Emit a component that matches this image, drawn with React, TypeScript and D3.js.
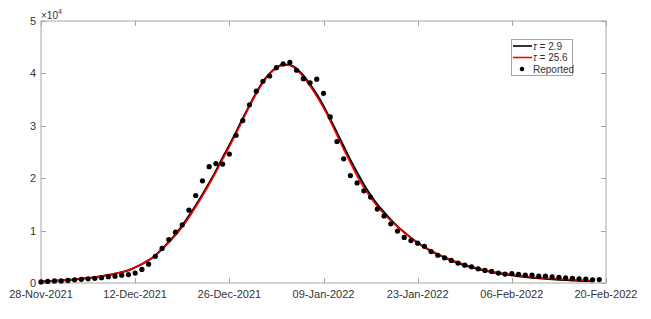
import { useEffect, useRef } from "react";
import * as d3 from "d3";

// daily reported cases, from 28-Nov-2021
const reported = [
  200, 300, 400, 400, 500, 600, 700, 800, 900, 1000, 1200, 1300, 1500, 1600, 1900, 2600,
  3600, 5100, 6600, 8300, 9700, 11100, 13900, 16700, 19500, 22200, 22800, 22700, 24600,
  28200, 31000, 34000, 36600, 38500, 39500, 41100, 41800, 42100, 40600, 39000, 38200,
  38900, 36200, 31700, 27000, 23700, 20500, 19100, 17600, 16400, 14100, 12800, 11300,
  9900, 8700, 8100, 7600, 7000, 6000, 5300, 4800, 4300, 3800, 3400, 3100, 2700, 2400,
  2200, 1900, 1700, 1800, 1650, 1500, 1500, 1300, 1300, 1150, 1100, 1000, 900, 800, 750,
  600, 650,
];

// model fit, tau = 2.9
const fitTau29 = [
  300, 350, 420, 500, 590, 690, 810, 950, 1110, 1300, 1520, 1780, 2080, 2430, 2990, 3600,
  4350, 5250, 6500, 7850, 9300, 10950, 12800, 14800, 16900, 19100, 21400, 23900, 26300,
  28800, 31400, 33900, 36300, 38400, 40000, 41100, 41700, 41600, 40900, 39600, 37900,
  36000, 33800, 31300, 28700, 26100, 23500, 21100, 18800, 16800, 15000, 13500, 12100,
  10800, 9700, 8650, 7700, 6850, 6100, 5450, 4850, 4300, 3820, 3400, 3020, 2680, 2370,
  2100, 1860, 1650, 1460, 1290, 1140, 1010, 900, 800, 710, 630, 560, 500, 440, 390, 350,
];

// model fit, tau = 25.6
const fitTau256 = [
  300, 360, 430, 510, 600, 700, 820, 960, 1120, 1310, 1530, 1790, 2090, 2440, 3000, 3600,
  4350, 5200, 6400, 7700, 9100, 10700, 12500, 14500, 16600, 18800, 21100, 23600, 26000,
  28500, 31100, 33700, 36100, 38200, 39900, 41000, 41600, 41500, 40700, 39300, 37600,
  35600, 33400, 30900, 28200, 25500, 22900, 20400, 18200, 16300, 14600, 13200, 11900,
  10700, 9600, 8600, 7700, 6900, 6200, 5550, 4950, 4420, 3950, 3530, 3150, 2810, 2500,
  2230, 1990, 1780, 1590, 1420, 1270, 1140, 1020, 920, 830, 750, 680, 610, 550, 500, 450,
];

const xTickLabels = [
  "28-Nov-2021", "12-Dec-2021", "26-Dec-2021", "09-Jan-2022",
  "23-Jan-2022", "06-Feb-2022", "20-Feb-2022",
];
const yTicks = [0, 10000, 20000, 30000, 40000, 50000];

export default function App() {
  const svgRef = useRef<SVGSVGElement>(null);

  useEffect(() => {
    const svg = d3.select(svgRef.current);
    svg.selectAll("*").remove();

    const width = 651;
    const height = 319;
    const margin = { top: 21, right: 45, bottom: 36, left: 41 };
    const font = "'Liberation Sans', Arial, Helvetica, sans-serif";
    const axisColor = "#a6a6a6";
    const textColor = "#333";

    svg.attr("width", width).attr("height", height);

    const parse = d3.utcParse("%d-%b-%Y");
    const tickDates = xTickLabels.map((s) => parse(s) as Date);
    const start = tickDates[0];
    const day = (i: number) => d3.utcDay.offset(start, i);

    const x = d3
      .scaleUtc()
      .domain([tickDates[0], tickDates[tickDates.length - 1]])
      .range([margin.left, width - margin.right]);
    const y = d3
      .scaleLinear()
      .domain([0, 50000])
      .range([height - margin.bottom, margin.top]);

    const x0 = margin.left;
    const x1 = width - margin.right;
    const y0 = height - margin.bottom;
    const y1 = margin.top;

    // box
    svg
      .append("rect")
      .attr("x", x0)
      .attr("y", y1)
      .attr("width", x1 - x0)
      .attr("height", y0 - y1)
      .attr("fill", "white")
      .attr("stroke", axisColor)
      .attr("stroke-width", 1);

    const tl = 5;
    // x ticks (bottom and top, inward)
    tickDates.forEach((d, i) => {
      const px = Math.round(x(d)) + 0.5;
      svg.append("line").attr("x1", px).attr("x2", px).attr("y1", y0).attr("y2", y0 - tl).attr("stroke", axisColor);
      svg.append("line").attr("x1", px).attr("x2", px).attr("y1", y1).attr("y2", y1 + tl).attr("stroke", axisColor);
      svg
        .append("text")
        .attr("x", x(d))
        .attr("y", y0 + 15)
        .attr("text-anchor", "middle")
        .attr("font-family", font)
        .attr("font-size", 11)
        .attr("fill", textColor)
        .text(xTickLabels[i]);
    });

    // y ticks (left and right, inward)
    yTicks.forEach((v) => {
      const py = Math.round(y(v)) + 0.5;
      svg.append("line").attr("x1", x0).attr("x2", x0 + tl).attr("y1", py).attr("y2", py).attr("stroke", axisColor);
      svg.append("line").attr("x1", x1).attr("x2", x1 - tl).attr("y1", py).attr("y2", py).attr("stroke", axisColor);
      svg
        .append("text")
        .attr("x", x0 - 5)
        .attr("y", y(v) + 4)
        .attr("text-anchor", "end")
        .attr("font-family", font)
        .attr("font-size", 11)
        .attr("fill", textColor)
        .text(String(v / 10000));
    });

    // exponent label
    const exp = svg
      .append("text")
      .attr("x", x0)
      .attr("y", y1 - 2)
      .attr("font-family", font)
      .attr("font-size", 10)
      .attr("fill", textColor);
    exp.append("tspan").text("\u00d710");
    exp.append("tspan").attr("font-size", 7).attr("dy", -5).text("4");

    const line = d3
      .line<number>()
      .x((_, i) => x(day(i)))
      .y((v) => y(v))
      .curve(d3.curveMonotoneX);

    svg
      .append("path")
      .datum(fitTau29)
      .attr("d", line)
      .attr("fill", "none")
      .attr("stroke", "black")
      .attr("stroke-width", 2);

    svg
      .append("path")
      .datum(fitTau256)
      .attr("d", line)
      .attr("fill", "none")
      .attr("stroke", "#ff0000")
      .attr("stroke-width", 1.6);

    svg
      .selectAll("circle.pt")
      .data(reported)
      .enter()
      .append("circle")
      .attr("class", "pt")
      .attr("cx", (_, i) => x(day(i)))
      .attr("cy", (v) => y(v))
      .attr("r", 2.6)
      .attr("fill", "black");

    // legend
    const lg = svg.append("g");
    lg.append("rect")
      .attr("x", 511.5)
      .attr("y", 39.5)
      .attr("width", 61)
      .attr("height", 36)
      .attr("fill", "white")
      .attr("stroke", axisColor);
    const rows = [
      { kind: "line", color: "black", tau: "2.9" },
      { kind: "line", color: "#ff0000", tau: "25.6" },
      { kind: "dot", color: "black", label: "Reported" },
    ];
    rows.forEach((r, i) => {
      const ry = 46 + i * 11.5;
      if (r.kind === "line") {
        lg.append("line")
          .attr("x1", 513)
          .attr("x2", 532)
          .attr("y1", ry)
          .attr("y2", ry)
          .attr("stroke", r.color)
          .attr("stroke-width", 1.6);
        const t = lg
          .append("text")
          .attr("x", 533)
          .attr("y", ry + 3.5)
          .attr("font-family", font)
          .attr("font-size", 10)
          .attr("fill", textColor);
        t.append("tspan").attr("font-style", "italic").text("\u03c4");
        t.append("tspan").text(` = ${r.tau}`);
      } else {
        lg.append("circle").attr("cx", 522).attr("cy", ry).attr("r", 2.3).attr("fill", r.color);
        lg.append("text")
          .attr("x", 533)
          .attr("y", ry + 3.5)
          .attr("font-family", font)
          .attr("font-size", 10)
          .attr("fill", textColor)
          .text(r.label as string);
      }
    });
  }, []);

  return (
    <div style={{ position: "absolute", left: 0, top: 0 }}>
      <svg ref={svgRef}></svg>
    </div>
  );
}
